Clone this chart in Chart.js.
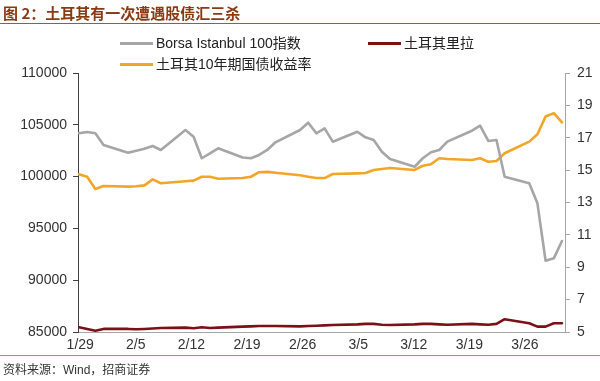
<!DOCTYPE html>
<html><head><meta charset="utf-8">
<script src="https://cdn.jsdelivr.net/npm/chart.js@4.4.1/dist/chart.umd.min.js"></script>
<style>
html,body{margin:0;padding:0;background:#fff;}
#wrap{position:relative;width:600px;height:381px;overflow:hidden;font-family:"Liberation Sans",Arial,"Noto Sans CJK SC",sans-serif;}
#c{position:absolute;left:0;top:0;}
.title{position:absolute;left:3px;top:2px;font-family:"Noto Sans CJK SC",sans-serif;font-weight:bold;font-size:15px;color:#8A3A12;white-space:nowrap;}
.hr{position:absolute;left:0;width:600px;height:0;border-top:1.5px solid #A8553A;}
.leg{position:absolute;font-size:14px;color:#222;white-space:nowrap;line-height:16px;}
.leg i{display:inline-block;width:33px;height:3px;vertical-align:middle;margin-right:3px;position:relative;top:-1px;}
.foot{position:absolute;left:3px;top:360px;font-size:12px;color:#333;white-space:nowrap;font-family:"Liberation Sans","Noto Sans CJK SC",sans-serif;}
</style></head>
<body>
<div id="wrap">
<canvas id="c" width="600" height="381"></canvas>
<div class="title">图 2：土耳其有一次遭遇股债汇三杀</div>
<div class="hr" style="top:23px"></div>
<div class="leg" style="left:120px;top:35px"><i style="background:#A6A6A6"></i>Borsa Istanbul 100指数</div>
<div class="leg" style="left:368px;top:35px"><i style="background:#7B1016"></i>土耳其里拉</div>
<div class="leg" style="left:120px;top:56px"><i style="background:#F2A628"></i>土耳其10年期国债收益率</div>
<div class="hr" style="top:355px;border-top:1px solid #C0806A"></div>
<div class="foot">资料来源：Wind，招商证券</div>
</div>
<script>
const dates = ['1/29','1/30','1/31','2/1','2/4','2/5','2/6','2/7','2/8','2/11','2/12','2/13','2/14','2/15','2/18','2/19','2/20','2/21','2/22','2/25','2/26','2/27','2/28','3/1','3/4','3/5','3/6','3/7','3/8','3/11','3/12','3/13','3/14','3/15','3/18','3/19','3/20','3/21','3/22','3/25','3/26','3/27','3/28','3/29'];
const bist100 = [104180,104300,104180,103050,102310,102500,102690,102950,102570,104500,103850,101770,102250,102730,101840,101770,102090,102570,103310,104500,105200,104180,104660,103370,104330,103790,103530,102400,101700,100950,101770,102350,102570,103370,104430,104910,103440,103530,99990,99350,97420,91880,92110,93780];
const lira = [5.29,5.19,5.08,5.19,5.19,5.17,5.19,5.22,5.25,5.27,5.23,5.29,5.25,5.27,5.33,5.35,5.37,5.37,5.37,5.35,5.37,5.39,5.41,5.43,5.47,5.50,5.50,5.45,5.43,5.47,5.50,5.50,5.47,5.45,5.50,5.47,5.45,5.50,5.79,5.54,5.33,5.33,5.54,5.54];
const yield10y = [14.74,14.59,13.84,14.02,13.98,14.00,14.06,14.43,14.19,14.31,14.35,14.59,14.59,14.47,14.51,14.59,14.87,14.89,14.84,14.68,14.59,14.51,14.51,14.76,14.80,14.82,15.01,15.07,15.13,15.01,15.27,15.36,15.73,15.69,15.63,15.73,15.52,15.56,16.04,16.76,17.22,18.31,18.52,17.95];
const xTickLabels = ['1/29','2/5','2/12','2/19','2/26','3/5','3/12','3/19','3/26'];
const leftTicks = [85000,90000,95000,100000,105000,110000];
const rightTicks = [5,7,9,11,13,15,17,19,21];

function dayOf(s){const [m,d]=s.split('/').map(Number);return Math.round((Date.UTC(2019,m-1,d)-Date.UTC(2019,0,29))/86400000);}
const days = dates.map(dayOf);
const pts = arr => arr.map((v,i)=>({x:days[i],y:v}));

const tickFont = {family:'"Liberation Sans", Arial, sans-serif', size:14};
new Chart(document.getElementById('c'),{
  type:'line',
  data:{datasets:[
    {label:'Borsa Istanbul 100指数',data:pts(bist100),borderColor:'#A6A6A6',yAxisID:'y',xAxisID:'x'},
    {label:'土耳其里拉',data:pts(lira),borderColor:'#7B1016',yAxisID:'y1',xAxisID:'x'},
    {label:'土耳其10年期国债收益率',data:pts(yield10y),borderColor:'#F2A628',yAxisID:'y1',xAxisID:'x'}
  ]},
  options:{
    responsive:false,animation:false,
    layout:{padding:{top:73,left:0,right:0,bottom:0}},
    elements:{line:{borderWidth:2.6,tension:0,borderCapStyle:'round',borderJoinStyle:'round'},point:{radius:0}},
    plugins:{legend:{display:false},tooltip:{enabled:false}},
    scales:{
      x:{type:'linear',display:false,min:-0.12,max:59.37},
      xl:{type:'linear',position:'bottom',min:-0.04,max:8.72,
        afterBuildTicks:s=>{s.ticks=xTickLabels.map((_,i)=>({value:i}));},
        afterFit:s=>{s.height=49;},
        grid:{drawOnChartArea:false,drawTicks:false},
        border:{display:true,color:'#A6A6A6',width:1},
        ticks:{padding:5,color:'#333',font:tickFont,maxRotation:0,autoSkip:false,callback:(v)=>xTickLabels[v]??''}},
      y:{type:'linear',position:'left',min:85000,max:110000,
        afterBuildTicks:s=>{s.ticks=leftTicks.map(v=>({value:v}));},
        afterFit:s=>{s.width=78;},
        grid:{drawOnChartArea:false,drawTicks:true,tickLength:5,color:'#404040'},
        border:{display:true,color:'#404040',width:1},
        ticks:{padding:6,color:'#333',font:tickFont,callback:v=>String(v)}},
      y1:{type:'linear',position:'right',min:5,max:21,
        afterBuildTicks:s=>{s.ticks=rightTicks.map(v=>({value:v}));},
        afterFit:s=>{s.width=35;},
        grid:{drawOnChartArea:false,drawTicks:true,tickLength:5,color:'#A6A6A6'},
        border:{display:true,color:'#A6A6A6',width:1},
        ticks:{padding:7,color:'#333',font:tickFont,callback:v=>String(v)}}
    }
  }
});
</script>
</body></html>
